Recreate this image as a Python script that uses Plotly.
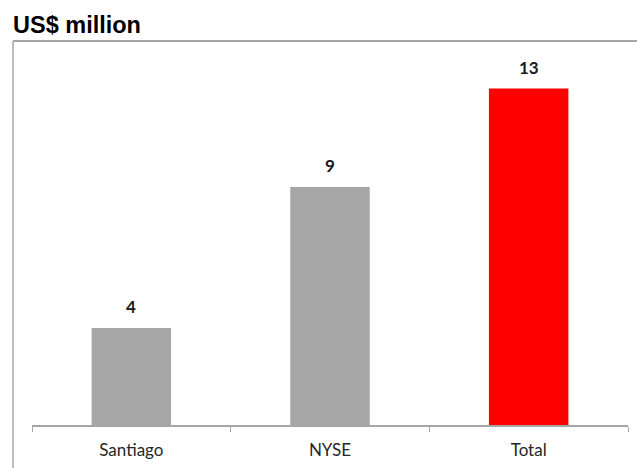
import plotly.graph_objects as go

categories = ["Santiago", "NYSE", "Total"]
values = [3.75, 9.2, 13.0]
labels = ["4", "9", "13"]
colors = ["#a6a6a6", "#a6a6a6", "#ff0000"]

fig = go.Figure()
fig.add_trace(go.Bar(
    x=categories, y=values, width=0.4,
    marker=dict(color=colors, line=dict(width=0)),
    hoverinfo="skip",
))

for c, v, t in zip(categories, values, labels):
    fig.add_annotation(x=c, y=v, text=f"<b>{t}</b>", showarrow=False,
                       yanchor="bottom", yshift=9,
                       font=dict(family="Lato, Open Sans, sans-serif", size=17, color="#1a1a1a"))

W, H = 637, 468
ml, mr, mt, mb = 32, 9, 42, 43
pw = W - ml - mr
ph = H - mt - mb

def px(x):
    return (x - ml) / pw

def py(y):
    return (H - mb - y) / ph

fig.add_shape(type="line", xref="paper", yref="paper",
              x0=px(13), x1=px(640), y0=py(41), y1=py(41),
              line=dict(color="#a6a6a6", width=2))
fig.add_shape(type="line", xref="paper", yref="paper",
              x0=px(13), x1=px(13), y0=py(41), y1=py(470),
              line=dict(color="#a6a6a6", width=1.5))

fig.add_annotation(xref="paper", yref="paper", x=px(11), y=py(40),
                   xanchor="left", yanchor="bottom", showarrow=False,
                   text="<b>US$ million</b>",
                   font=dict(family="Liberation Sans, Arial, sans-serif", size=23.5, color="#000000"))

fig.update_layout(
    width=W, height=H,
    margin=dict(l=ml, r=mr, t=mt, b=mb),
    paper_bgcolor="white", plot_bgcolor="white",
    showlegend=False,
    bargap=0.6,
    xaxis=dict(
        type="category", tickson="boundaries", ticks="outside", ticklen=5,
        tickcolor="#a6a6a6", showline=True, linecolor="#a6a6a6", linewidth=1.5,
        showgrid=False, zeroline=False, ticklabelstandoff=9,
        tickfont=dict(family="Lato, Open Sans, sans-serif", size=17, color="#262626"),
    ),
    yaxis=dict(range=[0, 14.8], visible=False, showgrid=False, zeroline=False),
)

fig.write_html("out.html")
